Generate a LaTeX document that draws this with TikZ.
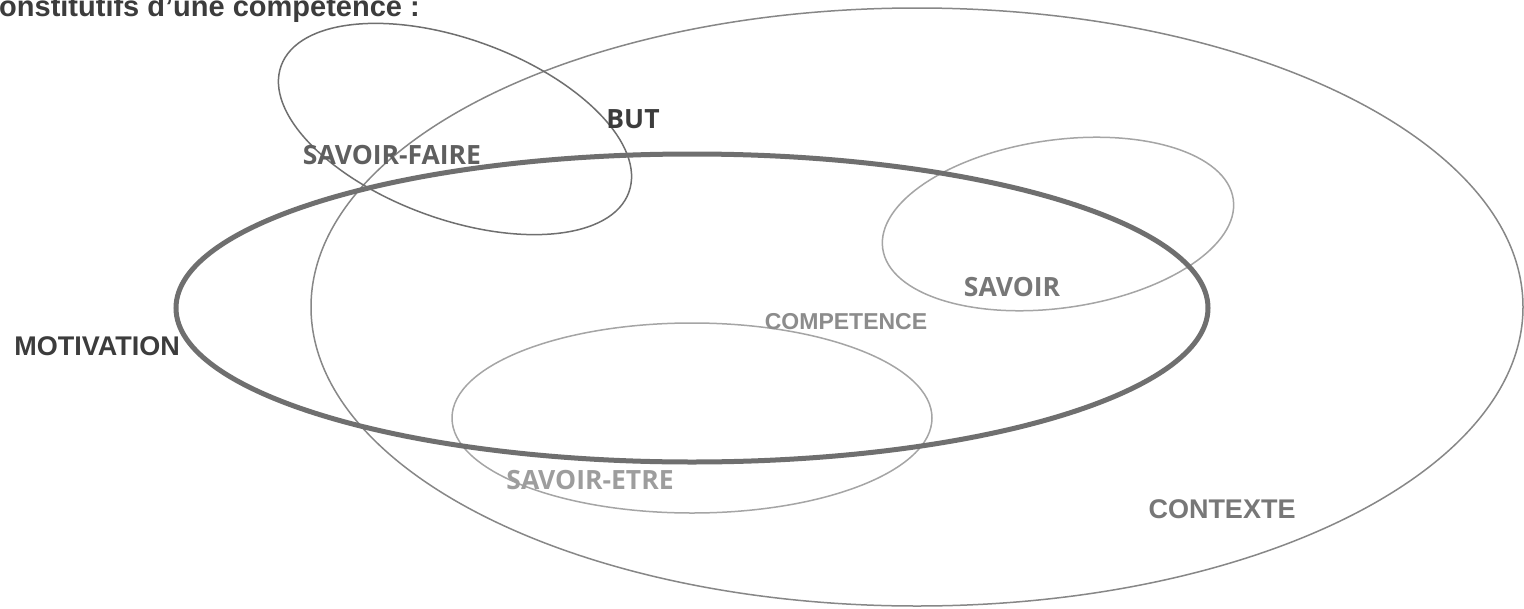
\documentclass[tikz,border=0pt]{standalone}
\usepackage{fontspec}
\setmainfont{Liberation Sans}
\newfontfamily\softfont{Open Sans}
\usepackage{xcolor}
\usepackage{tikz}
\usetikzlibrary{positioning}
\definecolor{inkdark}{RGB}{60,60,60}
\definecolor{inkmid}{RGB}{95,95,95}
\definecolor{inklight}{RGB}{140,140,140}
\definecolor{ringgray}{RGB}{135,135,135}
\definecolor{ringpale}{RGB}{165,165,165}

\begin{document}
\begin{tikzpicture}[x=1pt, y=-1pt,
  ring/.style={draw=ringgray, line width=1.5pt},
  palering/.style={draw=ringpale, line width=1.5pt},
  corering/.style={draw=inkmid!90, line width=5pt},
  tag/.style={inner sep=0pt, font=\bfseries\fontsize{27}{32}\selectfont},
  softtag/.style={inner sep=0pt, font=\softfont\bfseries\fontsize{26.5}{31}\selectfont}
]
\useasboundingbox[fill=white] (0,0) rectangle (1524,608);

% ellipses
\draw[ring] (917,307) ellipse [x radius=606, y radius=299];
\draw[draw=inkmid!90, line width=1.5pt] (455,129) ellipse [x radius=185, y radius=90, rotate=-20];
\draw[palering] (1058,224) ellipse [x radius=177, y radius=84, rotate=8];
\draw[palering] (692,418) ellipse [x radius=240, y radius=95];
\draw[corering] (692,308) ellipse [x radius=516, y radius=154];

% labels
\node[anchor=base west, inner sep=0pt, text=inkdark,
  font=\bfseries\fontsize{29}{34}\selectfont] (title) at (-1,16) {onstitutifs d'une compétence :};
\node[tag, text=inkdark] (motiv) at (97,346) {MOTIVATION};
\node[softtag, text=inkdark] (but) at (633,119) {BUT};
\node[softtag, text=inkmid] (sfaire) at (392,155) {SAVOIR-FAIRE};
\node[softtag, text=inkmid!85] (savoir) at (1012,287) {SAVOIR};
\node[tag, text=inklight, font=\bfseries\fontsize{23}{28}\selectfont] (compet) at (846,322) {COMPETENCE};
\node[softtag, text=inklight!85] (setre) at (590,480) {SAVOIR-ETRE};
\node[tag, text=inkmid!85] (ctx) at (1222,509) {CONTEXTE};
\end{tikzpicture}
\end{document}
